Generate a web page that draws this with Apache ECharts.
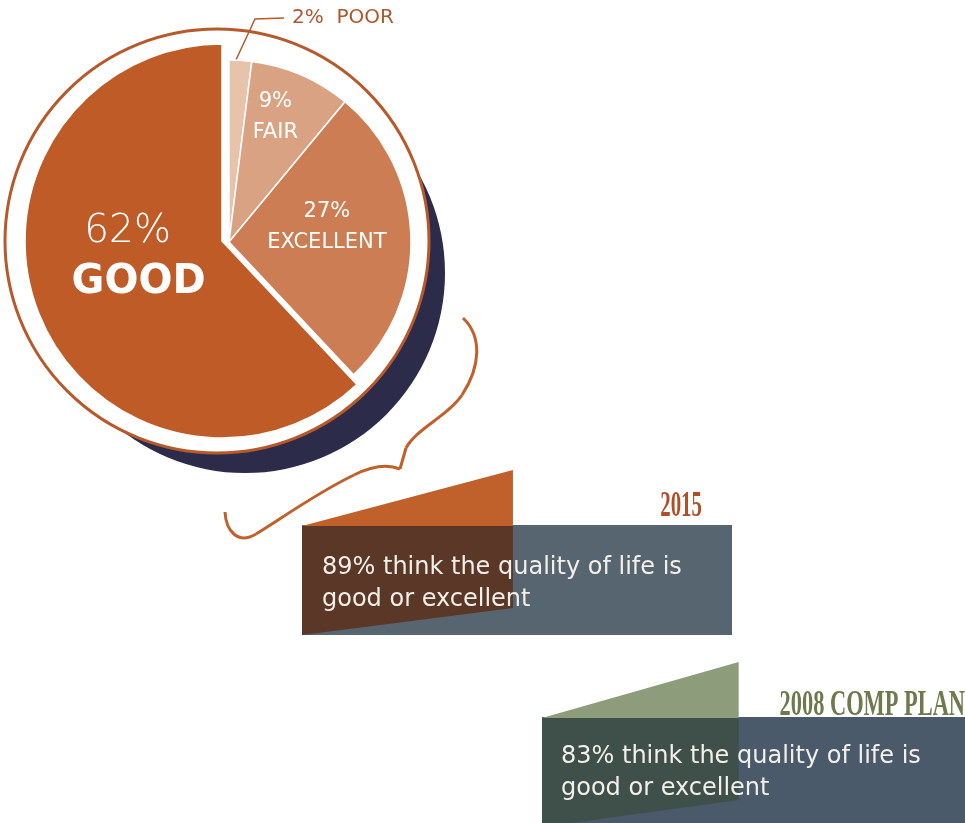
<!DOCTYPE html>
<html>
<head>
<meta charset="utf-8">
<script src="https://cdn.jsdelivr.net/npm/echarts@6/dist/echarts.min.js"></script>
<style>
  html, body { margin: 0; padding: 0; background: #fff; }
  #main { width: 965px; height: 823px; }
</style>
</head>
<body>
<div id="main"></div>
<script>
// ratings, clockwise from 12 o'clock
var ratingNames = ['POOR', 'FAIR', 'EXCELLENT', 'GOOD'];
var ratingValues = [2, 9, 27, 62];
var ratingColors = ['#e8c3ab', '#d9a282', '#cd7d53', '#bf5b27'];

// survey comparison
var years = ['2015', '2008 COMP PLAN'];
var shares = [89, 83];

var FONT = '"DejaVu Sans", sans-serif';
var ORANGE = '#c0602b';

var myChart = echarts.init(document.getElementById('main'));

function pieData(keep) {
  return ratingNames.map(function (name, i) {
    var on = keep(name);
    return {
      name: name,
      value: ratingValues[i],
      itemStyle: { color: on ? ratingColors[i] : 'transparent', borderWidth: on ? 1.5 : 0 },
      label: { show: on },
      labelLine: { show: on && name === 'POOR' }
    };
  });
}

// label nudges, pie labels are placed 'inside' and then shifted
var labelShift = {
  GOOD: { dx: 11, dy: -23 },
  FAIR: { dx: 9, dy: -39 },
  EXCELLENT: { dx: 4, dy: -12 }
};

function wedge(params, api) {
  var i = params.seriesIndex - 2;
  var tl = api.coord([0, 1]);
  var tr = api.coord([api.value(0), 1]);
  var x0 = tl[0], x1 = tr[0], y0 = tl[1];
  var cut = y0 + 56;
  return {
    type: 'group',
    children: [
      { type: 'polygon', shape: { points: [[x0, cut], [x1, y0], [x1, cut]] },
        style: { fill: ['#c0602b', '#8d9c7b'][i] } },
      { type: 'polygon', shape: { points: [[x0, cut], [x1, cut], [x1, y0 + 138], [x0, y0 + 165]] },
        style: { fill: ['#5b3727', '#3f504b'][i] } }
    ]
  };
}

// decorative brace, as bezier pieces
var braceStyle = { fill: 'none', stroke: ORANGE, lineWidth: 3 };
function bz(a, c1, c2, b) {
  return { type: 'bezierCurve', z: 1, style: braceStyle,
    shape: { x1: a[0], y1: a[1], cpx1: c1[0], cpy1: c1[1], cpx2: c2[0], cpy2: c2[1], x2: b[0], y2: b[1] } };
}

var option = {
  backgroundColor: '#ffffff',
  animation: false,
  grid: [
    { left: 302, top: 470, width: 237, height: 165 },
    { left: 542, top: 662, width: 237, height: 165 }
  ],
  xAxis: [
    { gridIndex: 0, type: 'value', min: 0, max: 100, show: false },
    { gridIndex: 1, type: 'value', min: 0, max: 100, show: false }
  ],
  yAxis: [
    { gridIndex: 0, type: 'value', min: 0, max: 1, show: false },
    { gridIndex: 1, type: 'value', min: 0, max: 1, show: false }
  ],
  graphic: [
    { type: 'circle', z: 0, shape: { cx: 245, cy: 273, r: 200 }, style: { fill: '#2d2b4a' } },
    { type: 'circle', z: 1, shape: { cx: 217, cy: 241, r: 212 }, style: { fill: '#fff', stroke: '#b65a2c', lineWidth: 3 } },
    bz([463, 318], [482, 336], [481, 366], [462, 395]),
    bz([462, 395], [448, 416], [417, 428], [406, 448]),
    { type: 'line', z: 1, style: braceStyle, shape: { x1: 406, y1: 448, x2: 400, y2: 469 } },
    bz([400, 469], [390, 465], [374, 465], [354, 475]),
    bz([354, 475], [320, 491], [282, 518], [256, 534]),
    bz([256, 534], [238, 545], [226, 531], [225, 512]),
    { type: 'rect', z: 1, shape: { x: 302, y: 525, width: 430, height: 110 }, style: { fill: '#56656f' } },
    { type: 'rect', z: 1, shape: { x: 542, y: 717, width: 430, height: 110 }, style: { fill: '#4a5a6a' } },
    { type: 'text', z: 100, x: 322, y: 552,
      style: { text: shares[0] + '% think the quality of life is\ngood or excellent', fill: '#f3efe9',
        fontSize: 24, lineHeight: 32, fontFamily: FONT } },
    { type: 'text', z: 100, x: 561, y: 741,
      style: { text: shares[1] + '% think the quality of life is\ngood or excellent', fill: '#f3efe9',
        fontSize: 24, lineHeight: 32, fontFamily: FONT } },
    { type: 'text', z: 100, x: 702, y: 525, scaleX: 0.58,
      style: { text: years[0], fill: '#b04f27', fontSize: 36, fontWeight: 'bold', fontFamily: '"Liberation Serif", serif',
        align: 'right', verticalAlign: 'bottom' } },
    { type: 'text', z: 100, x: 965, y: 723, scaleX: 0.64,
      style: { text: years[1], fill: '#6f7a4c', fontSize: 35, fontWeight: 'bold', fontFamily: '"Liberation Serif", serif',
        align: 'right', verticalAlign: 'bottom' } }
  ],
  series: [
    {
      type: 'pie', z: 2, center: [222, 241], radius: 197, startAngle: 90, clockwise: true,
      silent: true, emphasis: { disabled: true },
      itemStyle: { borderColor: '#fff' },
      label: {
        position: 'inside', color: '#fff',
        formatter: function (p) { return '{pct|' + p.value + '%}\n{nm|' + p.name + '}'; },
        rich: {
          pct: { fontSize: 39, fontWeight: 200, lineHeight: 54, color: '#fff', fontFamily: FONT, padding: [0, 22, 0, 0] },
          nm: { fontSize: 40, fontWeight: 'bold', lineHeight: 46, color: '#fff', fontFamily: FONT }
        }
      },
      labelLayout: function (p) { return labelShift[ratingNames[p.dataIndex]] || {}; },
      data: pieData(function (n) { return n === 'GOOD'; })
    },
    {
      type: 'pie', z: 3, center: [229, 242], radius: 182, startAngle: 90, clockwise: true,
      silent: true, emphasis: { disabled: true },
      itemStyle: { borderColor: '#fff' },
      label: {
        position: 'inside', color: '#fff', fontSize: 21, lineHeight: 31, fontFamily: FONT,
        formatter: function (p) { return p.value + '%\n' + p.name; }
      },
      labelLine: { lineStyle: { color: '#b65a2c', width: 1.5 } },
      labelLayout: function (p) {
        var key = ratingNames[p.dataIndex];
        if (key === 'POOR') {
          return { x: 292, y: 18, align: 'left', verticalAlign: 'middle',
            labelLinePoints: [[235, 62], [255, 19], [284, 18]] };
        }
        return labelShift[key] || {};
      },
      data: pieData(function (n) { return n !== 'GOOD'; }).map(function (d) {
        if (d.name === 'POOR') {
          d.label = { show: true, position: 'outside', color: '#b0562f', fontSize: 20, fontFamily: FONT,
            formatter: function (p) { return p.value + '%  ' + p.name; } };
        }
        return d;
      })
    },
    { type: 'custom', z: 4, xAxisIndex: 0, yAxisIndex: 0, renderItem: wedge, data: [[shares[0]]], silent: true },
    { type: 'custom', z: 4, xAxisIndex: 1, yAxisIndex: 1, renderItem: wedge, data: [[shares[1]]], silent: true }
  ]
};
myChart.setOption(option);
</script>
</body>
</html>
